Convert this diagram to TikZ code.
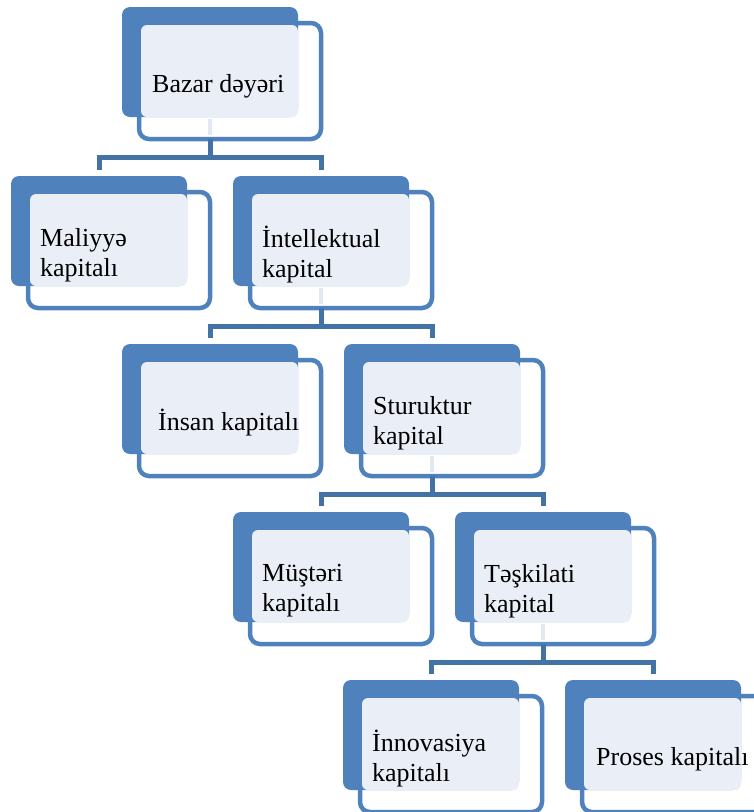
\documentclass[tikz,border=0pt]{standalone}
\usepackage{fontspec}
\setmainfont{Liberation Serif}
\usetikzlibrary{calc}
\definecolor{nblue}{HTML}{4F81BD}
\definecolor{cblue}{HTML}{4372A6}
\definecolor{nlight}{HTML}{EAEFF7}
\definecolor{glight}{HTML}{E3E9F2}
\newcommand\lblfont{\fontsize{26pt}{30pt}\selectfont}
\tikzset{
  backbox/.style={fill=nblue, rounded corners=8pt, minimum width=176pt, minimum height=110pt, inner sep=0pt, outer sep=0pt, anchor=north west},
  frontbox/.style={draw=nblue, line width=4.5pt, fill=white, rounded corners=10pt, minimum width=182pt, minimum height=116pt, inner sep=0pt, outer sep=0pt, anchor=north west},
  lightbox/.style={fill=nlight, rounded corners=6pt, minimum width=157pt, minimum height=92pt, inner sep=0pt, outer sep=0pt, anchor=north west},
  lbl/.style={font=\lblfont, align=left, anchor=west, inner sep=0pt},
  conn/.style={draw=cblue, line width=5pt, line join=miter},
  ghost/.style={draw=glight, line width=4.5pt},
}
% #1 name, #2 x, #3 y (back top-left), #4 text x offset, #5 text
\newcommand\orgnode[5]{%
  \node[frontbox] (#1-f) at ({#2+17},{#3+16}) {};
  \node[backbox] (#1-b) at (#2,#3) {};
  \node[lightbox] (#1-l) at ({#2+19},{#3+18}) {};
  \node[lbl] (#1) at ({#2+#4},{#3+79}) {#5};
}
% #1 parent, #2 left child, #3 right child
\newcommand\orgconn[3]{%
  \draw[ghost] ($(#1-b.south)+(0pt,-2pt)$) -- ($(#1-b.south |- #1-f.south)+(0pt,4pt)$);
  \coordinate (#1-bus) at ($(#1-b.south)+(0pt,-40pt)$);
  \coordinate (#2-top) at ($(#2-b.north)+(0pt,6pt)$);
  \coordinate (#3-top) at ($(#3-b.north)+(0pt,6pt)$);
  \draw[conn] (#1-b.south |- #1-f.south) -- (#1-bus);
  \draw[conn] (#2-top) |- (#1-bus) -| (#3-top);
}
\begin{document}
\begin{tikzpicture}[x=1pt,y=-1pt]
\useasboundingbox (0,0) rectangle (754,812);
\orgnode{bazar}{122}{7}{30}{Bazar dəyəri}
\orgnode{maliyye}{11}{176}{29}{Maliyyə\\kapitalı}
\orgnode{intel}{233}{176}{29}{İntellektual\\kapital}
\orgnode{insan}{122}{344}{36}{İnsan kapitalı}
\orgnode{struk}{344}{344}{29}{Sturuktur\\kapital}
\orgnode{musteri}{233}{512}{29}{Müştəri\\kapitalı}
\orgnode{teskilati}{455}{512}{29}{Təşkilati\\kapital}
\orgnode{innov}{343}{680}{29}{İnnovasiya\\kapitalı}
\orgnode{proses}{565}{680}{31}{Proses kapitalı}
\orgconn{bazar}{maliyye}{intel}
\orgconn{intel}{insan}{struk}
\orgconn{struk}{musteri}{teskilati}
\orgconn{teskilati}{innov}{proses}
\end{tikzpicture}
\end{document}
